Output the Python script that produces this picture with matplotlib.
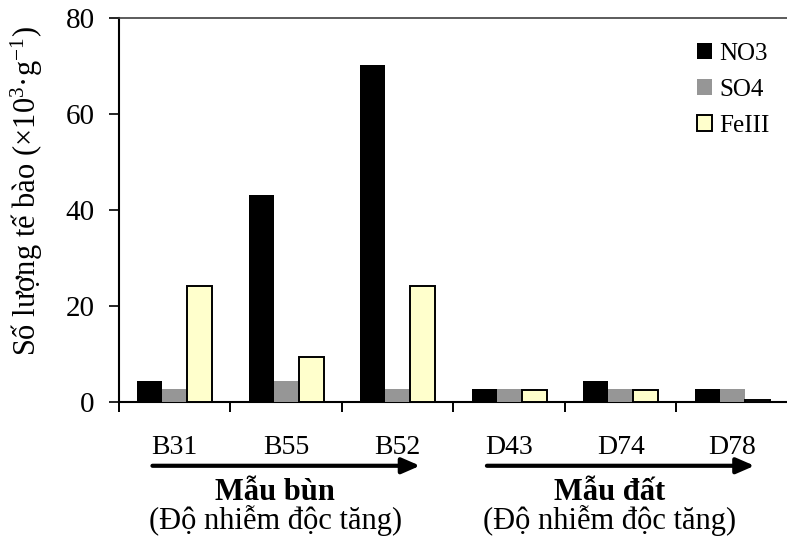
import matplotlib
matplotlib.use("Agg")
import matplotlib.pyplot as plt
import numpy as np

plt.rcParams['font.family'] = ['Liberation Serif', 'DejaVu Serif']
plt.rcParams['mathtext.fontset'] = 'custom'
plt.rcParams['mathtext.rm'] = 'Liberation Serif'
plt.rcParams['mathtext.it'] = 'Liberation Serif:italic'

# data (x10^3 cells per g)
samples = ["B31", "B55", "B52", "D43", "D74", "D78"]
no3 = [4.3, 43.1, 70.2, 2.6, 4.3, 2.6]
so4 = [2.6, 4.4, 2.6, 2.6, 2.6, 2.6]
fe3 = [24.2, 9.3, 24.2, 2.5, 2.5, 0.4]
series_names = ["NO3", "SO4", "FeIII"]
groups = ["Mẫu bùn", "Mẫu đất"]
group_note = "(Độ nhiễm độc tăng)"

fig = plt.figure(figsize=(7.87, 5.43), dpi=100)
ax = fig.add_axes([0.1512, 0.2597, 0.850, 0.7077])

x = np.arange(len(samples))
w = 0.225
ax.bar(x - w, no3, w, color="black", label=series_names[0], zorder=3)
ax.bar(x, so4, w, color="#969696", label=series_names[1], zorder=3)
ax.bar(x + w, fe3, w, color="#FFFFCC", edgecolor="black", linewidth=1.4,
       label=series_names[2], zorder=3)

ax.set_xlim(-0.5, 5.5)
ax.set_ylim(0, 80)
ax.set_yticks([0, 20, 40, 60, 80])
ax.tick_params(axis="y", direction="out", length=7.5, width=1.2,
               labelsize=21, pad=10)

# category labels on major ticks, separator ticks on minor ticks
ax.set_xticks(x)
ax.set_xticklabels(samples)
ax.set_xticks(np.arange(-0.5, 6.0, 1.0), minor=True)
ax.tick_params(axis="x", which="major", length=0, labelsize=20, pad=24)
ax.tick_params(axis="x", which="minor", direction="out", length=7.5, width=1.4)

for side in ["left", "bottom"]:
    ax.spines[side].set_linewidth(1.5)
ax.spines["top"].set_linewidth(1.2)
ax.spines["top"].set_color("#404040")
ax.spines["right"].set_visible(False)

ax.set_ylabel("Số lượng tế bào (×10$^{3}$·g$^{-1}$)", fontsize=22)
ax.yaxis.set_label_coords(-0.11, 0.55)

leg = ax.legend(loc="upper left", bbox_to_anchor=(0.864, 0.935), frameon=False,
                fontsize=18, handlelength=0.6, handleheight=0.6,
                handletextpad=0.28, labelspacing=0.57, borderaxespad=0,
                borderpad=0)

# arrows and group captions under the axis
tr = ax.get_xaxis_transform()
for i, name in enumerate(groups):
    first, last = 3 * i, 3 * i + 2
    ax.annotate("", xy=(last + 0.2, -0.166), xytext=(first - 0.2, -0.166),
                xycoords=tr, textcoords=tr, annotation_clip=False,
                arrowprops=dict(arrowstyle="-|>,head_length=1.08,head_width=0.47",
                                color="black", lw=3, shrinkA=0, shrinkB=0))
    mid = (first + last) / 2
    ax.text(mid - 0.1, -0.255, name, transform=tr, ha="center",
            va="baseline", fontsize=22, fontweight="bold")
    ax.text(mid - 0.1, -0.33, group_note, transform=tr, ha="center",
            va="baseline", fontsize=22)

fig.savefig("out.png", dpi=100)
